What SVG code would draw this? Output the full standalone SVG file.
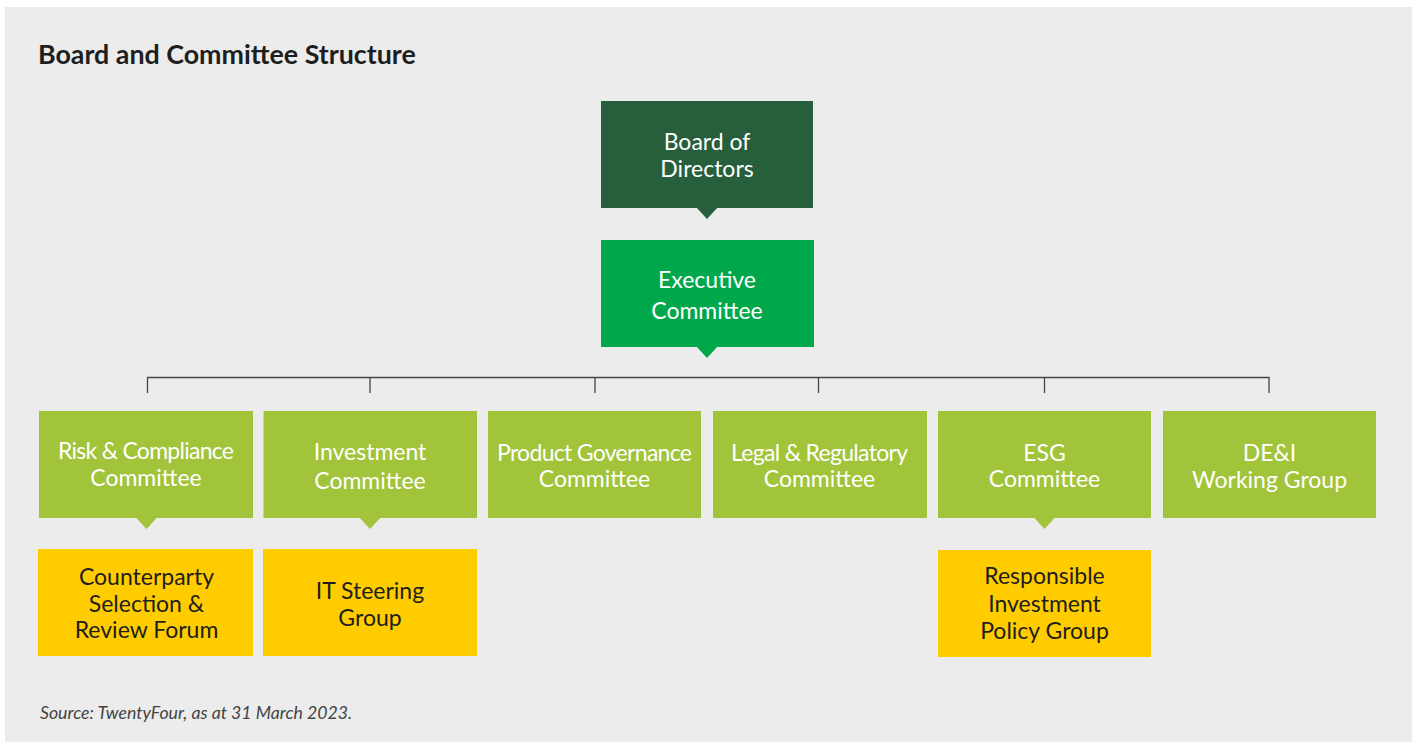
<svg xmlns="http://www.w3.org/2000/svg" width="1416" height="742" viewBox="0 0 1416 742">
  <defs>
    <style>
      .title { font-family: Lato, "Open Sans", sans-serif; font-weight: 700; font-size: 26.8px; fill: #1e1e1e; }
      .lbl { font-family: Lato, "Open Sans", sans-serif; font-size: 23px; text-anchor: middle; }
      .light { fill: #ffffff; }
      .dark { fill: #1e1e1e; }
      .note { font-family: Lato, "Open Sans", sans-serif; font-style: italic; font-size: 17.7px; fill: #444444; }
      .board { fill: #275e3c; }
      .exec { fill: #00a84b; }
      .cmte { fill: #a1c43a; }
      .group { fill: #ffcc00; }
      .link { fill: none; stroke: #444444; stroke-width: 1.3; }
    </style>
  </defs>

  <!-- page -->
  <rect x="0" y="0" width="1416" height="742" fill="#ffffff"/>
  <rect x="5" y="7" width="1407" height="735" fill="#ececec"/>

  <text class="title" x="38" y="64">Board and Committee Structure</text>

  <!-- connectors -->
  <g id="connectors">
    <path class="link" d="M147.5 393 V377.5 H1269 V393"/>
    <path class="link" d="M370 377.5 V393 M595 377.5 V393 M818.5 377.5 V393 M1044.5 377.5 V393"/>
  </g>

  <!-- top level -->
  <g id="board">
    <rect class="board" x="601" y="101" width="212" height="107"/>
    <path class="board" d="M696 207 L718 207 L707 219 Z"/>
    <text class="lbl light" x="707" y="150">Board of</text>
    <text class="lbl light" x="707" y="177">Directors</text>
  </g>

  <g id="executive">
    <rect class="exec" x="601" y="240" width="213" height="107"/>
    <path class="exec" d="M696 346 L718 346 L707 358 Z"/>
    <text class="lbl light" x="707" y="288">Executive</text>
    <text class="lbl light" x="707" y="319">Committee</text>
  </g>

  <!-- committees -->
  <g id="risk-compliance">
    <rect class="cmte" x="39" y="411" width="214" height="107"/>
    <path class="cmte" d="M135.5 517 L157.5 517 L146.5 529 Z"/>
    <text class="lbl light" x="146" y="459" textLength="176" lengthAdjust="spacing">Risk &amp; Compliance</text>
    <text class="lbl light" x="146" y="486">Committee</text>
  </g>

  <g id="investment">
    <rect class="cmte" x="263.5" y="411" width="213.5" height="107"/>
    <path class="cmte" d="M359 517 L381 517 L370 529 Z"/>
    <text class="lbl light" x="370" y="460">Investment</text>
    <text class="lbl light" x="370" y="489">Committee</text>
  </g>

  <g id="product-governance">
    <rect class="cmte" x="488" y="411" width="213" height="107"/>
    <text class="lbl light" x="594.5" y="461" textLength="195" lengthAdjust="spacing">Product Governance</text>
    <text class="lbl light" x="594.5" y="487">Committee</text>
  </g>

  <g id="legal-regulatory">
    <rect class="cmte" x="713" y="411" width="214" height="107"/>
    <text class="lbl light" x="819.5" y="461" textLength="177" lengthAdjust="spacing">Legal &amp; Regulatory</text>
    <text class="lbl light" x="819.5" y="487">Committee</text>
  </g>

  <g id="esg">
    <rect class="cmte" x="938" y="411" width="213" height="107"/>
    <path class="cmte" d="M1033.5 517 L1055.5 517 L1044.5 529 Z"/>
    <text class="lbl light" x="1044.5" y="461">ESG</text>
    <text class="lbl light" x="1044.5" y="487">Committee</text>
  </g>

  <g id="dei">
    <rect class="cmte" x="1163" y="411" width="213" height="107"/>
    <text class="lbl light" x="1269.5" y="461">DE&amp;I</text>
    <text class="lbl light" x="1269.5" y="488">Working Group</text>
  </g>

  <!-- sub-groups -->
  <g id="counterparty">
    <rect class="group" x="38" y="549" width="215" height="107"/>
    <text class="lbl dark" x="146.5" y="585">Counterparty</text>
    <text class="lbl dark" x="146.5" y="612">Selection &amp;</text>
    <text class="lbl dark" x="146.5" y="638">Review Forum</text>
  </g>

  <g id="it-steering">
    <rect class="group" x="263" y="549" width="214" height="107"/>
    <text class="lbl dark" x="370" y="599">IT Steering</text>
    <text class="lbl dark" x="370" y="626">Group</text>
  </g>

  <g id="responsible-investment">
    <rect class="group" x="938" y="550" width="213" height="107"/>
    <text class="lbl dark" x="1044.5" y="584">Responsible</text>
    <text class="lbl dark" x="1044.5" y="612">Investment</text>
    <text class="lbl dark" x="1044.5" y="639">Policy Group</text>
  </g>

  <text class="note" x="40" y="719">Source: TwentyFour, as at 31 March 2023.</text>
</svg>
